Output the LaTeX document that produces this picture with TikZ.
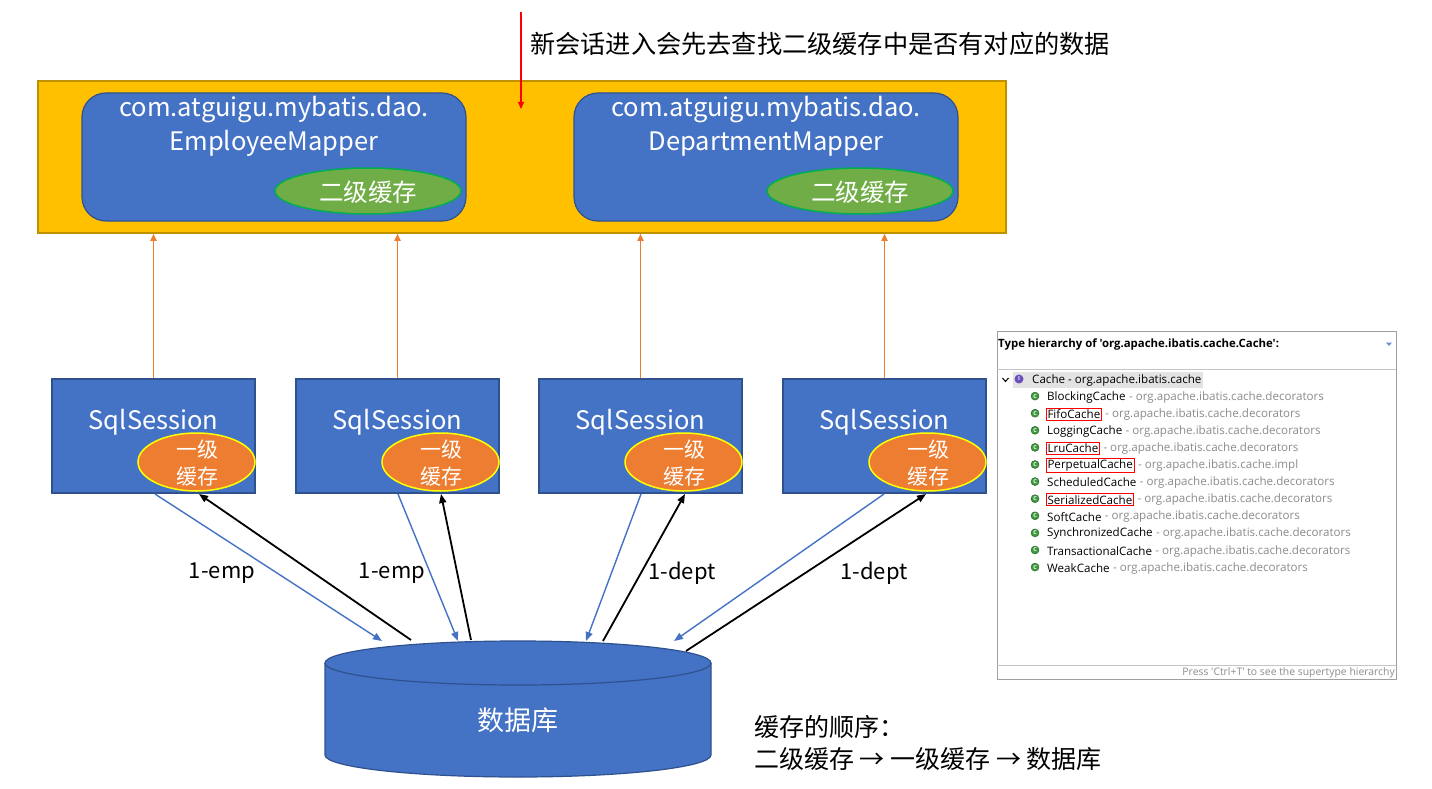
\documentclass[tikz,border=0pt]{standalone}
\usepackage{fontspec}
\setmainfont{Noto Sans CJK SC}
\newfontfamily\uifont{Open Sans}
\usetikzlibrary{arrows.meta,shapes.geometric}
\definecolor{cyel}{HTML}{FFC000}
\definecolor{cyelb}{HTML}{BF9000}
\definecolor{cblue}{HTML}{4472C4}
\definecolor{cblueb}{HTML}{2F528F}
\definecolor{cgreen}{HTML}{70AD47}
\definecolor{cgreenb}{HTML}{00B050}
\definecolor{corange}{HTML}{ED7D31}
\definecolor{cyellowb}{HTML}{FFFF00}
\definecolor{cgray}{HTML}{8C8C8C}
\definecolor{cframe}{HTML}{A0A0A0}
\definecolor{chl}{HTML}{E3E3E3}
\definecolor{cicon}{HTML}{3D9A3D}
\definecolor{cpurple}{HTML}{6B4FBB}
\tikzset{
  mapperbox/.style={draw=cblueb, line width=1.2pt, fill=cblue, rounded corners=24pt, minimum width=384pt, minimum height=128pt, inner sep=0pt},
  sessbox/.style={draw=cblueb, line width=1.2pt, fill=cblue, minimum width=203pt, minimum height=114pt, inner sep=0pt},
  l2ell/.style={ellipse, draw=cgreenb, line width=1.5pt, fill=cgreen, minimum width=186pt, minimum height=46pt, inner sep=0pt},
  l1ell/.style={ellipse, draw=cyellowb, line width=1.5pt, fill=corange, minimum width=117pt, minimum height=58pt, inner sep=0pt},
  wtext/.style={text=white, inner sep=0pt},
  bigtxt/.style={font=\fontsize{25.5}{34}\selectfont},
  uparrow/.style={draw=corange, line width=1.6pt, -{Triangle[length=7pt,width=6pt]}},
  bluearr/.style={draw=cblue, line width=1.4pt, -{Triangle[length=9pt,width=7pt]}},
  blackarr/.style={draw=black, line width=1.8pt, -{Triangle[length=9pt,width=7pt]}},
  lbl/.style={font=\fontsize{22}{26}\selectfont, inner sep=0pt},
  item/.style={font=\uifont\fontsize{11.6}{13}\selectfont, inner sep=0pt, anchor=west},
  pkg/.style={font=\uifont\fontsize{11.6}{13}\selectfont, inner sep=0pt, anchor=west, text=cgray},
  redbox/.style={draw=red, line width=1pt, inner sep=1.5pt},
  cicn/.style={circle, fill=cicon, draw=cicon!60!black, line width=0.4pt, minimum size=8pt, inner sep=0pt, text=white, font=\uifont\fontsize{5.5}{6}\selectfont\bfseries}
}
\begin{document}
\begin{tikzpicture}[x=1pt,y=-1pt]
\useasboundingbox[fill=white] (0,0) rectangle (1432,789);

% yellow container
\node[draw=cyelb, line width=1.5pt, fill=cyel, minimum width=968pt, minimum height=152pt, inner sep=0pt] (l2) at (522,157) {};

% top note and red arrow
\coordinate (rtop) at (521,12);
\coordinate (rbot) at (521,109);
\draw[red, line width=1.2pt, -{Triangle[length=7pt,width=6pt]}] (rtop) -- (rbot);
\node[anchor=west, inner sep=0pt, font=\fontsize{25.2}{28}\selectfont] (note) at (530,44) {新会话进入会先去查找二级缓存中是否有对应的数据};

% mappers
\node[mapperbox] (m1) at (274,157) {};
\node[mapperbox] (m2) at (766,157) {};
\node[wtext, bigtxt, align=center] (m1t) at (274,126) {com.atguigu.mybatis.dao.\\EmployeeMapper};
\node[wtext, bigtxt, align=center] (m2t) at (766,126) {com.atguigu.mybatis.dao.\\DepartmentMapper};
\node[l2ell] (e1) at (368,191) {};
\node[l2ell] (e2) at (860,191) {};
\node[wtext, font=\fontsize{24.5}{28}\selectfont] (e1t) at (368,192) {二级缓存};
\node[wtext, font=\fontsize{24.5}{28}\selectfont] (e2t) at (860,192) {二级缓存};

% sessions
\foreach \i/\x in {1/153.5, 2/397.5, 3/640.5, 4/884.5} {
  \node[sessbox] (s\i) at (\x,436) {};
  \node[wtext, bigtxt] (s\i t) at (\x,422) {SqlSession};
  \node[l1ell] (o\i) at (\x+43,462) {};
  \node[wtext, align=center, font=\fontsize{21}{27}\selectfont] (o\i t) at (\x+44,463) {一级\\缓存};
  \draw[uparrow] (s\i.north) -- (s\i.north |- l2.south);
}

% database cylinder
\fill[cblue] (325,663) -- (325,755) arc[start angle=180, end angle=0, x radius=193, y radius=22] -- (711,663) arc[start angle=360, end angle=180, x radius=193, y radius=22] -- cycle;
\draw[cblueb, line width=1.2pt] (325,663) -- (325,755) arc[start angle=180, end angle=0, x radius=193, y radius=22] -- (711,663);
\draw[cblueb, line width=1.2pt] (518,663) ellipse[x radius=193, y radius=22];
\node[wtext, font=\fontsize{27}{30}\selectfont] (db) at (518,720) {数据库};

% connectors between sessions and db
\coordinate (a1s) at (155,494); \coordinate (a1e) at (382,641);
\coordinate (b1s) at (411,640); \coordinate (b1e) at (199,494);
\coordinate (a2s) at (398,494); \coordinate (a2e) at (458,641);
\coordinate (b2s) at (471,640); \coordinate (b2e) at (441,494);
\coordinate (a3s) at (641,494); \coordinate (a3e) at (586,641);
\coordinate (b3s) at (603,641); \coordinate (b3e) at (685,494);
\coordinate (a4s) at (884,494); \coordinate (a4e) at (674,641);
\coordinate (b4s) at (686,651); \coordinate (b4e) at (926,494);
\foreach \i in {1,2,3,4} {
  \draw[bluearr] (a\i s) -- (a\i e);
  \draw[blackarr] (b\i s) -- (b\i e);
}
\node[lbl] (t1) at (222,573) {1-emp};
\node[lbl] (t2) at (392,573) {1-emp};
\node[lbl] (t3) at (682,573) {1-dept};
\node[lbl] (t4) at (874,573) {1-dept};

% order note
\node[anchor=north west, inner sep=0pt, align=left, font=\fontsize{25}{32}\selectfont] (order) at (754,715) {缓存的顺序：\\二级缓存 → 一级缓存 → 数据库};

% type hierarchy panel
\node[draw=cframe, line width=0.8pt, fill=white, minimum width=399pt, minimum height=348pt, inner sep=0pt] (panel) at (1196.5,505) {};
\draw[chl!70!gray, line width=0.8pt] (997,369) -- (1396,369);
\draw[chl!70!gray, line width=0.8pt] (997,665) -- (1396,665);
\node[anchor=west, inner sep=0pt, font=\uifont\fontsize{11.4}{13}\selectfont\bfseries] (ptitle) at (998,345) {Type hierarchy of 'org.apache.ibatis.cache.Cache':};
\fill[cblue!80] (1386,342.5) -- (1392,342.5) -- (1389,346) -- cycle;
\fill[chl] (1013,372) rectangle (1203,388);
\draw[line width=1pt] (1002.5,378) -- (1005.5,381.5) -- (1008.5,378);
\node[circle, fill=cpurple, minimum size=9pt, inner sep=0pt, text=white, font=\uifont\fontsize{5.5}{6}\selectfont\bfseries] (ci) at (1019,379) {I};
\node[item] (croot) at (1032,380) {Cache - org.apache.ibatis.cache};
\foreach \n/\name/\p/\r in {
 1/BlockingCache/org.apache.ibatis.cache.decorators/0,
 2/FifoCache/org.apache.ibatis.cache.decorators/1,
 3/LoggingCache/org.apache.ibatis.cache.decorators/0,
 4/LruCache/org.apache.ibatis.cache.decorators/1,
 5/PerpetualCache/org.apache.ibatis.cache.impl/1,
 6/ScheduledCache/org.apache.ibatis.cache.decorators/0,
 7/SerializedCache/org.apache.ibatis.cache.decorators/1,
 8/SoftCache/org.apache.ibatis.cache.decorators/0,
 9/SynchronizedCache/org.apache.ibatis.cache.decorators/0,
 10/TransactionalCache/org.apache.ibatis.cache.decorators/0,
 11/WeakCache/org.apache.ibatis.cache.decorators/0} {
  \pgfmathsetmacro{\yy}{380+17.1*\n}
  \node[cicn] (ic\n) at (1035,\yy-1) {C};
  \ifnum\r=1
    \node[item, redbox] (cn\n) at (1045.5,\yy) {\name};
  \else
    \node[item] (cn\n) at (1047,\yy) {\name};
  \fi
  \node[pkg] (pk\n) at ([xshift=3pt]cn\n.east) {- \p};
}
\node[anchor=east, inner sep=0pt, text=cgray, font=\uifont\fontsize{10.4}{12}\selectfont] (pfoot) at (1395,673) {Press 'Ctrl+T' to see the supertype hierarchy};
\end{tikzpicture}
\end{document}
